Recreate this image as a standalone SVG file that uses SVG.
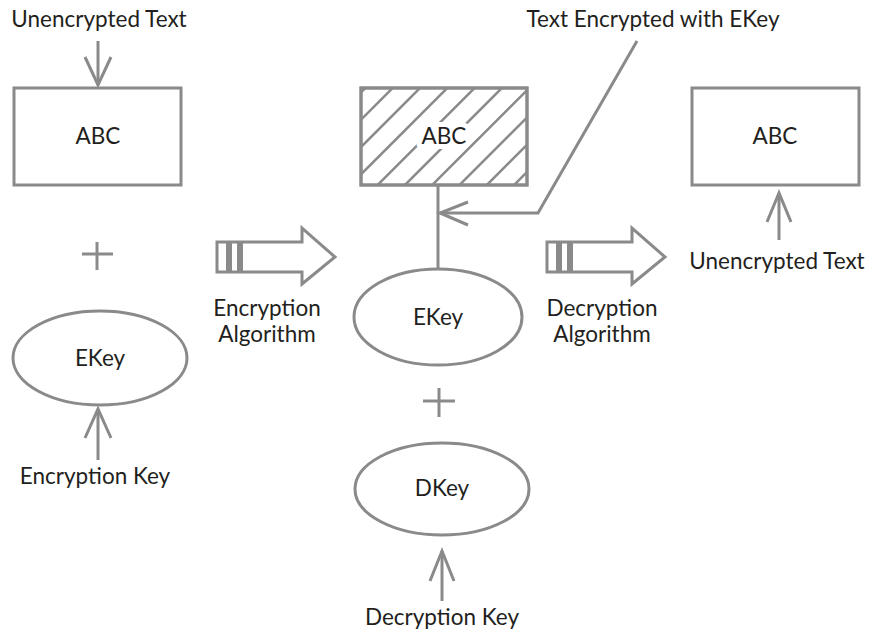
<svg xmlns="http://www.w3.org/2000/svg" width="871" height="635" viewBox="0 0 871 635">
  <style>
    .shape { fill: #ffffff; stroke: #8a8a8a; stroke-width: 3; }
    .line { fill: none; stroke: #8a8a8a; stroke-width: 3; }
    .hatch { fill: none; stroke: #8a8a8a; stroke-width: 2.5; }
    .bar { fill: #8a8a8a; }
    text { font-family: Lato, "Open Sans", sans-serif; font-size: 22.5px; fill: #231f20; text-anchor: middle; }
    .halo { stroke: #ffffff; stroke-width: 10; paint-order: stroke; stroke-linejoin: round; }
  </style>
  <defs>
    <clipPath id="hatchClip">
      <rect x="361" y="88" width="166" height="97"/>
    </clipPath>
  </defs>

  <!-- plain text block -->
  <g id="plain-box">
    <rect class="shape" x="14" y="88" width="167" height="97"/>
    <text x="98" y="144">ABC</text>
  </g>

  <!-- cipher text block (hatched) -->
  <g id="cipher-box">
    <rect class="shape" x="361" y="88" width="166" height="97"/>
    <g class="hatch" clip-path="url(#hatchClip)">
      <line x1="361" y1="92.4" x2="453.4" y2="0"/>
      <line x1="361" y1="119.7" x2="480.7" y2="0"/>
      <line x1="361" y1="147" x2="508" y2="0"/>
      <line x1="361" y1="174.3" x2="535.3" y2="0"/>
      <line x1="361" y1="201.6" x2="562.6" y2="0"/>
      <line x1="361" y1="228.9" x2="589.9" y2="0"/>
      <line x1="361" y1="256.2" x2="617.2" y2="0"/>
      <line x1="361" y1="283.5" x2="644.5" y2="0"/>
      <line x1="361" y1="310.8" x2="671.8" y2="0"/>
      <line x1="361" y1="338.1" x2="699.1" y2="0"/>
    </g>
    <rect x="361" y="88" width="166" height="97" fill="none" stroke="#8a8a8a" stroke-width="3"/>
    <text class="halo" x="444" y="144">ABC</text>
  </g>

  <!-- decrypted text block -->
  <g id="result-box">
    <rect class="shape" x="692" y="88" width="167" height="97"/>
    <text x="775" y="144">ABC</text>
  </g>

  <!-- keys -->
  <g id="ekey-left">
    <ellipse class="shape" cx="100" cy="358" rx="87" ry="47"/>
    <text x="100" y="366">EKey</text>
  </g>
  <g id="ekey-mid">
    <ellipse class="shape" cx="438" cy="317" rx="84" ry="48"/>
    <text x="438" y="325">EKey</text>
  </g>
  <g id="dkey">
    <ellipse class="shape" cx="442" cy="489" rx="87" ry="46"/>
    <text x="442" y="496">DKey</text>
  </g>

  <!-- plus signs -->
  <g id="plus-left" class="line">
    <line x1="82" y1="254" x2="113" y2="254"/>
    <line x1="97" y1="242" x2="97" y2="270"/>
  </g>
  <g id="plus-mid" class="line">
    <line x1="423" y1="401" x2="455" y2="401"/>
    <line x1="439" y1="388" x2="439" y2="417"/>
  </g>

  <!-- algorithm block arrows -->
  <g id="encrypt-algorithm">
    <path class="shape" d="M217,242 H302 V228 L335,257 L302,284 V272 H217 Z"/>
    <rect class="bar" x="226" y="242" width="6" height="30"/>
    <rect class="bar" x="237" y="242" width="6" height="30"/>
    <text x="267" y="316">Encryption</text>
    <text x="267" y="342">Algorithm</text>
  </g>
  <g id="decrypt-algorithm">
    <path class="shape" d="M547,242 H632 V228 L665,257 L632,284 V272 H547 Z"/>
    <rect class="bar" x="556" y="242" width="6" height="30"/>
    <rect class="bar" x="567" y="242" width="6" height="30"/>
    <text x="602" y="316">Decryption</text>
    <text x="602" y="342">Algorithm</text>
  </g>

  <!-- labels -->
  <g id="labels">
    <text x="99" y="27">Unencrypted Text</text>
    <text x="653" y="27">Text Encrypted with EKey</text>
    <text x="777" y="269">Unencrypted Text</text>
    <text x="95" y="484">Encryption Key</text>
    <text x="442" y="625">Decryption Key</text>
  </g>

  <!-- connectors -->
  <g id="connectors" class="line">
    <line x1="98" y1="41" x2="98" y2="85"/>
    <polyline points="85,57 98,85 111,57"/>
    <line x1="98" y1="460" x2="98" y2="409"/>
    <polyline points="85,438 98,409 111,438"/>
    <line x1="779" y1="240" x2="779" y2="193"/>
    <polyline points="767,222 779,193 791,222"/>
    <line x1="442" y1="601" x2="442" y2="551"/>
    <polyline points="430,581 442,551 454,581"/>
    <line x1="438" y1="185" x2="438" y2="269"/>
    <polyline points="637,41 538,213 440,213"/>
    <polyline points="468,202 440,213 468,225"/>
  </g>
</svg>
